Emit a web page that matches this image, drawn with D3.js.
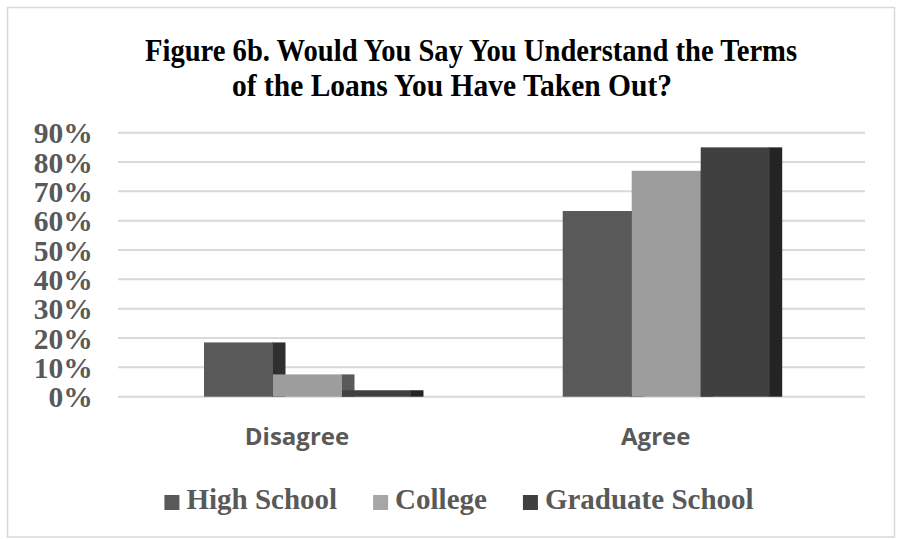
<!DOCTYPE html>
<html>
<head>
<meta charset="utf-8">
<script src="https://cdn.jsdelivr.net/npm/d3@7"></script>
<style>
  html, body { margin: 0; padding: 0; background: #ffffff; }
  svg { display: block; }
</style>
</head>
<body>
<svg id="chart" width="904" height="539"></svg>
<script>
// Survey answers by education level (share of respondents)
const categories = ["Disagree", "Agree"];
const seriesNames = ["High School", "College", "Graduate School"];
const highSchool = [0.185, 0.633];
const college = [0.076, 0.770];
const graduateSchool = [0.022, 0.850];
const yTicks = [0, 0.1, 0.2, 0.3, 0.4, 0.5, 0.6, 0.7, 0.8, 0.9];
const titleLines = [
  "Figure 6b. Would You Say You Understand the Terms",
  "of the Loans You Have Taken Out?"
];

const seriesValues = [highSchool, college, graduateSchool];
const frontColors = ["#595959", "#9d9d9d", "#404040"];
const sideColors = ["#2f2f2f", "#5a5a5a", "#242424"];
const legendColors = ["#595959", "#a6a6a6", "#404040"];

const svg = d3.select("#chart");

// outer frame
svg.append("rect")
  .attr("x", 7.5).attr("y", 7.5)
  .attr("width", 887).attr("height", 529.5)
  .attr("fill", "#ffffff")
  .attr("stroke", "#d9d9d9").attr("stroke-width", 1.5);

// title: condensed bold serif, two lines
const titleLayout = [
  { x: 145, y: 61, len: 652 },
  { x: 232, y: 96, len: 440 }
];
svg.append("g").selectAll("text")
  .data(titleLines)
  .join("text")
  .attr("x", (d, i) => titleLayout[i].x)
  .attr("y", (d, i) => titleLayout[i].y)
  .attr("textLength", (d, i) => titleLayout[i].len)
  .attr("lengthAdjust", "spacingAndGlyphs")
  .attr("font-family", "'Liberation Serif', 'Times New Roman', serif")
  .attr("font-weight", "bold")
  .attr("font-size", 32)
  .attr("fill", "#000000")
  .text(d => d);

// scales
const plotLeft = 118, plotRight = 865;
const y = d3.scaleLinear().domain([0, 0.9]).range([396.7, 132.7]);
const x0 = d3.scaleBand().domain(categories)
  .range([204, 769.7]).paddingInner(0.423).paddingOuter(0);
const x1 = d3.scaleBand().domain(seriesNames)
  .range([0, x0.bandwidth()]).padding(0);
const depth = 12.5;

// gridlines
svg.append("g").selectAll("line")
  .data(yTicks)
  .join("line")
  .attr("x1", plotLeft).attr("x2", plotRight)
  .attr("y1", d => y(d)).attr("y2", d => y(d))
  .attr("stroke", "#d9d9d9").attr("stroke-width", 2);

// y axis labels
const yAxis = svg.append("g")
  .attr("transform", `translate(${plotLeft},0)`)
  .call(d3.axisLeft(y).tickValues(yTicks).tickFormat(d3.format(".0%"))
    .tickSize(0).tickPadding(25.3));
yAxis.select(".domain").remove();
yAxis.selectAll("text")
  .attr("font-family", "'Liberation Serif', 'Times New Roman', serif")
  .attr("font-weight", "bold")
  .attr("font-size", 29.5)
  .attr("fill", "#595959")
  .attr("dy", "0.34em");

// bars: side face first, then front face, series by series
const groups = svg.append("g").selectAll("g")
  .data(categories)
  .join("g")
  .attr("transform", d => `translate(${x0(d)},0)`);

seriesNames.forEach((s, si) => {
  groups.append("rect")
    .attr("x", x1(s) + x1.bandwidth() - 1)
    .attr("y", (d, ci) => y(seriesValues[si][ci]))
    .attr("width", depth + 1)
    .attr("height", (d, ci) => y(0) - y(seriesValues[si][ci]))
    .attr("fill", sideColors[si]);
  groups.append("rect")
    .attr("x", x1(s))
    .attr("y", (d, ci) => y(seriesValues[si][ci]))
    .attr("width", x1.bandwidth())
    .attr("height", (d, ci) => y(0) - y(seriesValues[si][ci]))
    .attr("fill", frontColors[si]);
});

// category labels
svg.append("g").selectAll("text")
  .data(categories)
  .join("text")
  .attr("x", d => x0(d) + x0.bandwidth() / 2 - 10.5)
  .attr("y", 445)
  .attr("text-anchor", "middle")
  .attr("font-family", "'Open Sans', sans-serif")
  .attr("font-weight", "bold")
  .attr("font-size", 24)
  .attr("fill", "#595959")
  .text(d => d);

// legend
const legend = svg.append("g");
const items = legend.selectAll("g").data(seriesNames).join("g");
items.append("rect")
  .attr("width", 15).attr("height", 15)
  .attr("y", 495)
  .attr("fill", (d, i) => legendColors[i]);
items.append("text")
  .attr("x", 22).attr("y", 509)
  .attr("font-family", "'Liberation Serif', 'Times New Roman', serif")
  .attr("font-weight", "bold")
  .attr("font-size", 29)
  .attr("fill", "#595959")
  .text(d => d);
let offsets = [], cx = 0;
items.each(function () {
  const w = d3.select(this).select("text").node().getComputedTextLength();
  offsets.push(cx);
  cx += 22 + w + 36;
});
const totalW = cx - 36;
const startX = 459 - totalW / 2;
items.attr("transform", (d, i) => `translate(${startX + offsets[i]},0)`);
</script>
</body>
</html>
